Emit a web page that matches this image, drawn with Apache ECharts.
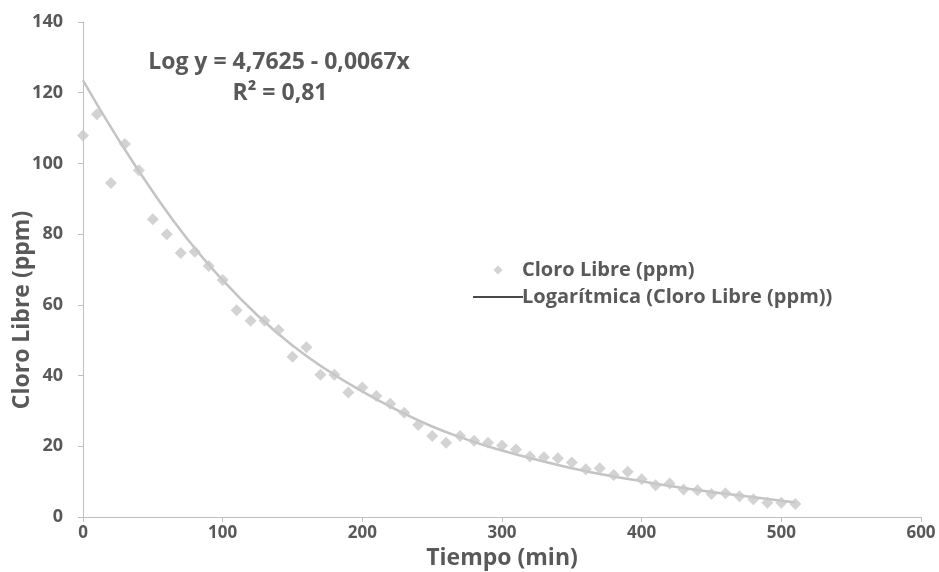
<!DOCTYPE html>
<html>
<head>
<meta charset="utf-8">
<script src="https://cdn.jsdelivr.net/npm/echarts@6/dist/echarts.min.js"></script>
<style>
  html, body { margin: 0; padding: 0; background: #fff; }
  #chart { width: 939px; height: 572px; }
</style>
</head>
<body>
<div id="chart"></div>
<script>
// minutos
const tiempo = [0, 10, 20, 30, 40, 50, 60, 70, 80, 90, 100, 110, 120, 130, 140, 150, 160, 170, 180, 190,
  200, 210, 220, 230, 240, 250, 260, 270, 280, 290, 300, 310, 320, 330, 340, 350, 360, 370, 380, 390,
  400, 410, 420, 430, 440, 450, 460, 470, 480, 490, 500, 510];
// cloro libre (ppm)
const cloro = [107.9, 113.9, 94.5, 105.5, 98.1, 84.2, 80.0, 74.7, 75.0, 71.0, 67.0, 58.5, 55.5, 55.5, 52.9, 45.3, 48.0, 40.2, 40.2, 35.2,
  36.6, 34.2, 32.0, 29.5, 26.0, 22.9, 21.0, 22.9, 21.6, 21.0, 20.2, 19.1, 17.1, 16.9, 16.6, 15.4, 13.5, 13.8, 11.9, 12.8,
  10.7, 9.0, 9.5, 7.8, 7.6, 6.5, 6.7, 5.9, 5.0, 4.0, 4.0, 3.7];
// linea de tendencia
const tendX = [0, 25, 50, 75, 100, 125, 150, 175, 200, 225, 250, 275, 300, 325, 350, 375, 400, 425, 450, 475, 510];
const tendY = [123.5, 107, 92, 78.5, 67, 57, 48.5, 41.5, 35.5, 30.2, 25.6, 21.9, 18.8, 16.2, 13.8, 11.8, 10.1, 8.5, 7.1, 5.9, 4.1];

const gris = '#595959';
const fuente = 'Open Sans';

const chart = echarts.init(document.getElementById('chart'));

const option = {
  animation: false,
  grid: { left: 83, right: 18, top: 22, bottom: 55, outerBoundsMode: 'none' },
  legend: {
    orient: 'vertical',
    left: 468,
    top: 255,
    itemWidth: 50,
    itemHeight: 9,
    itemGap: 7,
    symbolKeepAspect: true,
    textStyle: { color: gris, fontFamily: fuente, fontWeight: 'bold', fontSize: 20, padding: [0, 0, 0, -6] },
    data: [
      { name: 'Cloro Libre (ppm)', icon: 'path://M5,0 L10,5 L5,10 L0,5 Z', itemStyle: { color: '#c8c8c8' } },
      { name: 'Logarítmica (Cloro Libre (ppm))', icon: 'path://M0,0 L50,0 L50,2 L0,2 Z', itemStyle: { color: '#4a4a4a' } }
    ]
  },
  xAxis: {
    type: 'value',
    min: 0,
    max: 600,
    interval: 100,
    splitLine: { show: false },
    axisLine: { lineStyle: { color: '#bfbfbf', width: 1 } },
    axisTick: { show: true, length: 5, lineStyle: { color: '#bfbfbf' } },
    axisLabel: { color: gris, fontFamily: fuente, fontWeight: 'bold', fontSize: 17, margin: 8 },
    name: 'Tiempo (min)',
    nameLocation: 'middle',
    nameGap: 27,
    nameTextStyle: { color: gris, fontFamily: fuente, fontWeight: 'bold', fontSize: 23 }
  },
  yAxis: {
    type: 'value',
    min: 0,
    max: 140,
    interval: 20,
    splitLine: { show: false },
    axisLine: { show: true, lineStyle: { color: '#bfbfbf', width: 1 } },
    axisTick: { show: true, length: 5, lineStyle: { color: '#bfbfbf' } },
    axisLabel: { color: gris, fontFamily: fuente, fontWeight: 'bold', fontSize: 18, margin: 20 }
  },
  graphic: [
    {
      type: 'text', x: 22, y: 310, rotation: Math.PI / 2,
      style: { text: 'Cloro Libre (ppm)', fill: gris, font: 'bold 23px "Open Sans"', align: 'center', verticalAlign: 'middle' }
    },
    {
      type: 'text', x: 279, y: 62,
      style: { text: 'Log y = 4,7625 - 0,0067x', fill: gris, font: 'bold 23px "Open Sans"', align: 'center', verticalAlign: 'middle' }
    },
    {
      type: 'text', x: 280, y: 93,
      style: { text: 'R² = 0,81', fill: gris, font: 'bold 23px "Open Sans"', align: 'center', verticalAlign: 'middle' }
    }
  ],
  series: [
    {
      name: 'Cloro Libre (ppm)',
      type: 'scatter',
      symbol: 'diamond',
      symbolSize: 12,
      itemStyle: { color: '#c8c8c8' },
      data: tiempo.map((t, i) => [t, cloro[i]]),
      z: 3
    },
    {
      name: 'Logarítmica (Cloro Libre (ppm))',
      type: 'line',
      smooth: true,
      showSymbol: false,
      lineStyle: { color: '#c4c4c4', width: 2.5 },
      data: tendX.map((t, i) => [t, tendY[i]]),
      z: 2
    }
  ]
};

chart.setOption(option);
</script>
</body>
</html>
